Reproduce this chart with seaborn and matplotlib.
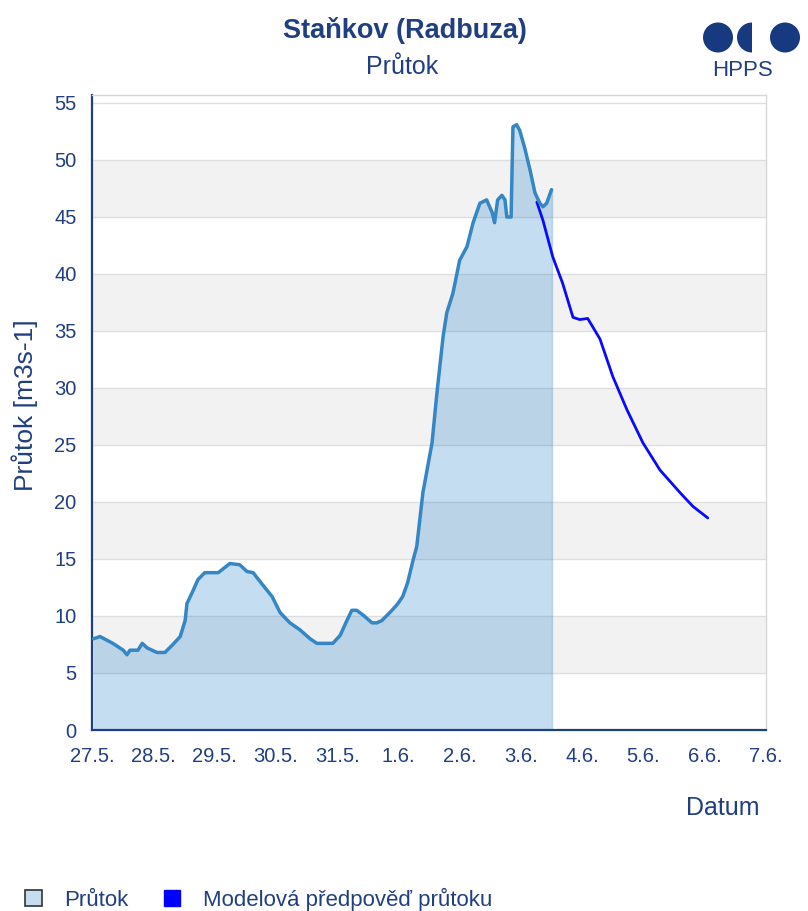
import matplotlib
matplotlib.use("Agg")
import matplotlib.pyplot as plt
from matplotlib.patches import Patch, Circle, Wedge
import seaborn as sns

# --- data (days since 27.5. 00:00) ---
obs_day = [0.02, 0.08, 0.13, 0.34, 0.51, 0.57, 0.62, 0.75, 0.82, 0.90, 1.06, 1.19, 1.32,
           1.44, 1.52, 1.55, 1.63, 1.73, 1.84, 2.06, 2.25, 2.41, 2.53, 2.63, 2.79,
           2.94, 3.07, 3.23, 3.39, 3.56, 3.67, 3.93, 4.05, 4.16, 4.24, 4.32, 4.42,
           4.57, 4.65, 4.73, 4.86, 4.98, 5.07, 5.15, 5.24, 5.30, 5.40, 5.55, 5.63,
           5.73, 5.79, 5.89, 6.00, 6.12, 6.22, 6.33, 6.44, 6.53, 6.57, 6.62, 6.69,
           6.74, 6.77, 6.84, 6.85, 6.87, 6.93, 6.98, 7.06, 7.15, 7.23, 7.31, 7.36,
           7.42, 7.50]
obs_flow = [8.0, 8.1, 8.2, 7.6, 7.0, 6.6, 7.0, 7.0, 7.6, 7.2, 6.8, 6.8, 7.5,
            8.2, 9.6, 11.1, 12.0, 13.2, 13.8, 13.8, 14.6, 14.5, 13.9, 13.8, 12.7,
            11.7, 10.3, 9.4, 8.8, 8.0, 7.6, 7.6, 8.3, 9.6, 10.5, 10.5, 10.1,
            9.4, 9.4, 9.6, 10.3, 11.0, 11.7, 12.9, 14.9, 16.1, 20.8, 25.2, 29.6,
            34.5, 36.6, 38.3, 41.2, 42.4, 44.5, 46.2, 46.5, 45.4, 44.5, 46.5, 46.9,
            46.5, 45.0, 45.0, 47.6, 52.9, 53.1, 52.6, 51.1, 49.1, 47.1, 46.2, 45.9,
            46.2, 47.4]

fc_day = [7.26, 7.36, 7.52, 7.68, 7.85, 7.96, 8.09, 8.29, 8.50, 8.73, 8.99, 9.27,
          9.60, 9.81, 10.05]
fc_flow = [46.3, 44.7, 41.5, 39.2, 36.2, 36.0, 36.1, 34.3, 31.0, 28.1, 25.2, 22.8,
           20.8, 19.6, 18.6]

date_labels = ["27.5.", "28.5.", "29.5.", "30.5.", "31.5.", "1.6.",
               "2.6.", "3.6.", "4.6.", "5.6.", "6.6.", "7.6."]
y_ticks = list(range(0, 56, 5))

navy = "#203f80"
obs_line = "#3586c4"
fill_col = "#1878c8"
fc_col = "#0a0aff"

sns.set_theme(style="white")
plt.rcParams["font.family"] = ["Liberation Sans", "DejaVu Sans"]

fig = plt.figure(figsize=(8.08, 9.11), dpi=100)
W, H = 808, 911
ax = fig.add_axes([92 / W, 1 - 730 / H, (766 - 92) / W, (730 - 95) / H])

# alternating bands + grid
for lo in range(5, 55, 10):
    ax.axhspan(lo, lo + 5, color="#f2f2f2", lw=0, zorder=0)
for yv in y_ticks[1:]:
    ax.axhline(yv, color="#dedede", lw=1, zorder=0.5)

ax.fill_between(obs_day, obs_flow, color=fill_col, alpha=0.25, lw=0, zorder=1)
ax.vlines(obs_day[-1], 0, obs_flow[-1], color=fill_col, alpha=0.3, lw=1, zorder=1)
sns.lineplot(x=fc_day, y=fc_flow, color=fc_col, lw=2, ax=ax, zorder=2)
sns.lineplot(x=obs_day, y=obs_flow, color=obs_line, lw=2.5, ax=ax, zorder=3)

ax.set_xlim(0, 11)
ax.set_ylim(0, 55.7)
ax.set_xticks(range(len(date_labels)))
ax.set_xticklabels(date_labels)
ax.set_yticks(y_ticks)
ax.tick_params(axis="both", length=0, labelsize=14.5, colors=navy)
ax.tick_params(axis="x", pad=12)
ax.tick_params(axis="y", pad=11)
ax.set_xlabel("")
ax.set_ylabel("")

for s in ["left", "bottom"]:
    ax.spines[s].set_color(navy)
    ax.spines[s].set_linewidth(1.6)
for s in ["top", "right"]:
    ax.spines[s].set_color("#d6d6d6")
    ax.spines[s].set_linewidth(1)

# titles and axis labels
fig.text(405 / W, 1 - 31 / H, "Staňkov (Radbuza)", ha="center", va="center",
         fontsize=19.5, fontweight="bold", color=navy)
fig.text(402 / W, 1 - 67 / H, "Průtok", ha="center", va="center",
         fontsize=18, color=navy)
fig.text(25 / W, 1 - 405 / H, "Průtok [m3s-1]", ha="center", va="center",
         rotation=90, fontsize=19, color=navy)
fig.text(760 / W, 1 - 808 / H, "Datum", ha="right", va="center",
         fontsize=18, color=navy)

# HPPS logo
logo = fig.add_axes([0, 0, 1, 1], zorder=5)
logo.set_xlim(0, W)
logo.set_ylim(H, 0)
logo.axis("off")
logo.patch.set_alpha(0)
logo.add_patch(Circle((718, 37.5), 15, color="#17397f", lw=0))
logo.add_patch(Wedge((752, 37.5), 15, 90, 270, color="#17397f", lw=0))
logo.add_patch(Circle((785, 37.5), 15, color="#17397f", lw=0))
logo.text(742, 70, "HPPS", ha="center", va="center", fontsize=16, color=navy)

# legend
handles = [Patch(facecolor="#c6ddf0", edgecolor="#333333", lw=1.2),
           Patch(facecolor="#0000ff", edgecolor="#0000ff")]
fig.legend(handles, ["Průtok", "Modelová předpověď průtoku"],
           loc="center left", bbox_to_anchor=(25 / W, 1 - 899 / H), ncol=2,
           frameon=False, fontsize=16, labelcolor=navy, handlelength=0.75,
           handleheight=0.75, handletextpad=1.0, columnspacing=1.6,
           borderaxespad=0, borderpad=0)

fig.savefig("out.png", dpi=100)
